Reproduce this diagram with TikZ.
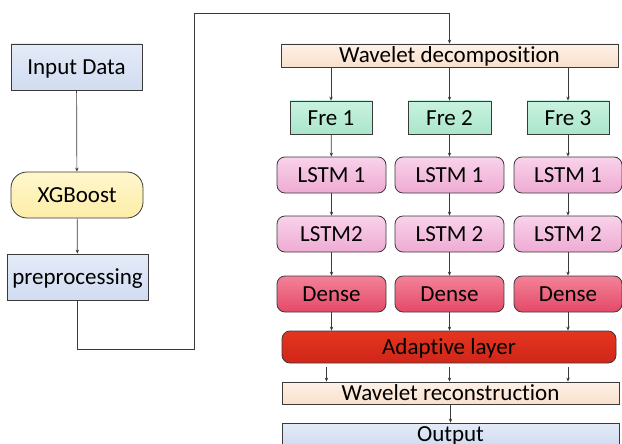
\documentclass[tikz,border=0pt]{standalone}
\usepackage{fontspec}
\setmainfont[Ligatures={NoCommon,NoRequired,NoContextual}]{Carlito}
\usetikzlibrary{arrows.meta}

\definecolor{edgegray}{HTML}{3A3A3A}
\definecolor{bluetop}{HTML}{E4EBF8}\definecolor{bluebot}{HTML}{D1DCF1}
\definecolor{yeltop}{HTML}{FFF7CC}\definecolor{yelbot}{HTML}{FDEDA8}
\definecolor{peachtop}{HTML}{FDF1E7}\definecolor{peachbot}{HTML}{FAE0CC}
\definecolor{minttop}{HTML}{C8F2E0}\definecolor{mintbot}{HTML}{ABE6CA}
\definecolor{pinktop}{HTML}{F9D2EA}\definecolor{pinkbot}{HTML}{EEABD3}
\definecolor{densetop}{HTML}{F38298}\definecolor{densebot}{HTML}{E44968}
\definecolor{redtop}{HTML}{E4351F}\definecolor{redbot}{HTML}{D02519}

\tikzset{
    every node/.style={draw=edgegray, line width=.8pt, inner sep=0pt,
        text height=15pt, text depth=0pt,
        font=\fontsize{23}{27}\selectfont},
    blk/.style 2 args={minimum width=#1pt, minimum height=#2pt},
    rblk/.style 2 args={blk={#1}{#2}, rounded corners=8pt},
    blue/.style={top color=bluetop, bottom color=bluebot},
    peach/.style={top color=peachtop, bottom color=peachbot},
    mint/.style={top color=minttop, bottom color=mintbot},
    pink/.style={top color=pinktop, bottom color=pinkbot},
    dense/.style={top color=densetop, bottom color=densebot},
    arr/.style={draw=edgegray, line width=.7pt, -{Stealth[length=4pt, width=3.4pt]}}
}

\begin{document}
\begin{tikzpicture}[x=1pt, y=-1pt]
        \clip (0,0) rectangle (622,444);
        % left chain
        \node (inp) [blk={131}{46}, blue] at (76.5, 67) {Input Data};
        \node (xgb) [blk={132}{46}, rounded corners=16pt, top color=yeltop, bottom color=yelbot] at (77, 195) {XGBoost};
        \node (prep) [blk={141}{46}, blue] at (77.5, 277) {preprocessing};
        % decomposition
        \node (wdec) [blk={337}{23}, peach] at (449.5, 55.5) {Wavelet decomposition};
        \node (fre1) [blk={82}{33}, mint] at (331, 117.5) {Fre 1};
        \node (fre2) [blk={83}{33}, mint] at (449.5, 117.5) {Fre 2};
        \node (fre3) [blk={82}{33}, mint] at (568, 117.5) {Fre 3};
        \node (la1) [rblk={109}{36}, pink] at (331.5, 175) {LSTM 1};
        \node (la2) [rblk={109}{36}, pink] at (449.5, 175) {LSTM 1};
        \node (la3) [rblk={108}{36}, pink] at (568, 175) {LSTM 1};
        \node (lb1) [rblk={109}{36}, pink] at (331.5, 234) {LSTM2};
        \node (lb2) [rblk={109}{36}, pink] at (449.5, 234) {LSTM 2};
        \node (lb3) [rblk={108}{36}, pink] at (568, 234) {LSTM 2};
        \node (d1) [rblk={109}{36}, dense] at (331.5, 294) {Dense};
        \node (d2) [rblk={109}{36}, dense] at (449.5, 294) {Dense};
        \node (d3) [rblk={108}{36}, dense] at (568, 294) {Dense};
        \node (adapt) [rblk={334}{32}, top color=redtop, bottom color=redbot] at (449, 347) {Adaptive layer};
        \node (wrec) [blk={337}{22}, peach] at (450.5, 393) {Wavelet reconstruction};
        \node (out) [blk={337}{22}, blue] at (450.5, 434) {Output};
        \coordinate (lowturn) at (194.5, 349);
        \coordinate (topturn) at (194.5, 13);

        \draw[arr] (inp) -- (xgb);
        \draw[arr] (xgb) -- (prep);
        \draw[arr] (prep.south) |- (lowturn) -- (topturn) -| (wdec.north);
        \foreach \i in {1,2,3} {
                \draw[arr] (fre\i.north |- wdec.south) -- (fre\i.north);
                \draw[arr] (fre\i) -- (la\i);
                \draw[arr] (la\i) -- (lb\i);
                \draw[arr] (lb\i) -- (d\i);
                \draw[arr] (d\i.south) -- (d\i.south |- adapt.north);
        }
        \draw[arr] ([xshift=-5pt, yshift=-4pt]adapt.south -| d1) -- ([xshift=-5pt]wrec.north -| d1);
        \draw[arr] ([yshift=-4pt]adapt.south -| d2) -- (wrec.north -| d2);
        \draw[arr] ([yshift=-4pt]adapt.south -| d3) -- (wrec.north -| d3);
        \draw[arr] (wrec) -- (out);
\end{tikzpicture}
\end{document}
